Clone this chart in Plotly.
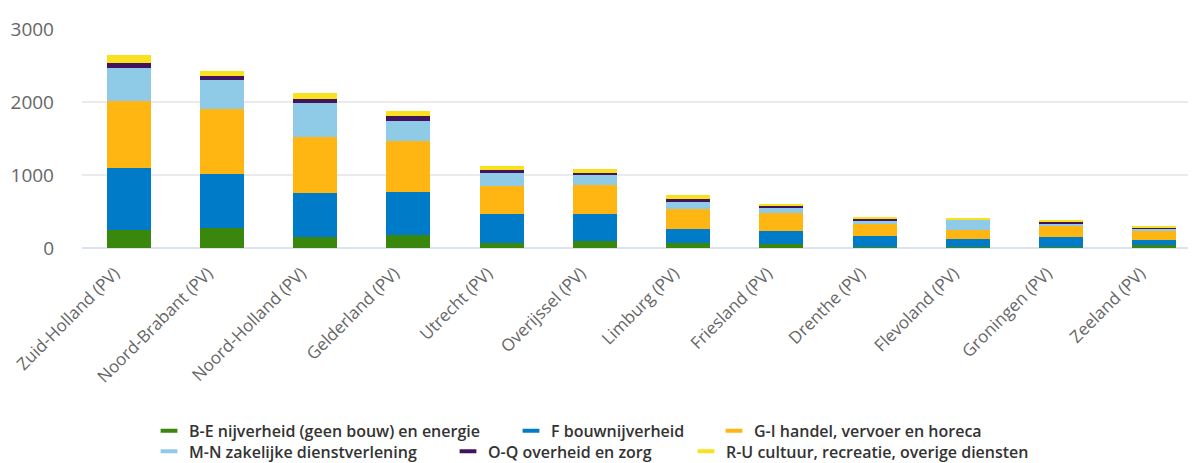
import plotly.graph_objects as go

# provincies (x-as)
provincies = [
    "Zuid-Holland (PV)", "Noord-Brabant (PV)", "Noord-Holland (PV)", "Gelderland (PV)",
    "Utrecht (PV)", "Overijssel (PV)", "Limburg (PV)", "Friesland (PV)",
    "Drenthe (PV)", "Flevoland (PV)", "Groningen (PV)", "Zeeland (PV)",
]

# waarden per sector
be_nijverheid = [240, 270, 150, 185, 75, 100, 75, 55, 20, 15, 15, 45]
f_bouw = [860, 750, 600, 585, 390, 365, 185, 180, 145, 110, 135, 65]
gi_handel = [910, 880, 765, 700, 380, 395, 275, 240, 165, 125, 145, 128]
mn_zakelijk = [460, 400, 470, 270, 185, 140, 100, 85, 45, 140, 35, 23]
oq_overheid = [60, 60, 55, 65, 45, 30, 40, 20, 27, 5, 22, 22]
ru_cultuur = [110, 70, 80, 75, 45, 55, 45, 25, 22, 20, 30, 22]

sector_namen = [
    "B-E nijverheid (geen bouw) en energie",
    "F bouwnijverheid",
    "G-I handel, vervoer en horeca",
    "M-N zakelijke dienstverlening",
    "O-Q overheid en zorg",
    "R-U cultuur, recreatie, overige diensten",
]
sector_waarden = [be_nijverheid, f_bouw, gi_handel, mn_zakelijk, oq_overheid, ru_cultuur]
kleuren = ["#39870c", "#007bc7", "#ffb612", "#8fcae7", "#42145f", "#f9e11e"]

y_ticks = [0, 1000, 2000, 3000]

W, H = 1196, 463
ML, MR, MT, MB = 74, 3, 21, 218
PW, PH = W - ML - MR, H - MT - MB

# legenda-posities in pixels (links, midden)
legenda_pos = [(141, 432), (503, 432), (706, 432), (141, 453), (440, 453), (678, 453)]

fig = go.Figure()
for i, (naam, vals, kleur) in enumerate(zip(sector_namen, sector_waarden, kleuren)):
    fig.add_bar(x=provincies, y=vals, name=naam, marker_color=kleur,
                marker_line_width=0, showlegend=False)
    lg = "legend" if i == 0 else f"legend{i + 1}"
    fig.add_scatter(x=[None], y=[None], mode="markers", name=naam, legend=lg,
                    marker=dict(symbol="line-ew", size=12, color=kleur,
                                line=dict(width=4, color=kleur)))

fig.update_layout(
    width=W, height=H,
    margin=dict(l=ML, r=MR, t=MT, b=MB),
    barmode="stack", bargap=0.53,
    paper_bgcolor="white", plot_bgcolor="white",
    font=dict(family="Open Sans", color="#666666"),
)

legend_font = dict(family="Open Sans", size=16, color="#333333", weight=600)
for i, (px_, py_) in enumerate(legenda_pos):
    key = "legend" if i == 0 else f"legend{i + 1}"
    fig.update_layout({key: dict(
        x=(px_ - ML) / PW, y=(MT + PH - py_) / PH,
        xanchor="left", yanchor="middle",
        orientation="h", bgcolor="rgba(0,0,0,0)", borderwidth=0,
        font=legend_font, itemclick=False,
    )})

fig.update_xaxes(
    tickangle=-45, tickfont=dict(size=17, color="#666666"),
    showgrid=False, showline=False, zeroline=False, ticks="",
    ticklabelstandoff=11, ticklabelshift=-14,
)
fig.update_yaxes(
    range=[0, 3000], tickvals=y_ticks, ticktext=[str(v) for v in y_ticks],
    tickfont=dict(size=19, color="#666666"),
    showgrid=True, gridcolor="#e9e9ee", gridwidth=1.5,
    zeroline=True, zerolinecolor="#dde3ee", zerolinewidth=2,
    ticklabelstandoff=27, showline=False,
)

fig.write_html("out.html")
